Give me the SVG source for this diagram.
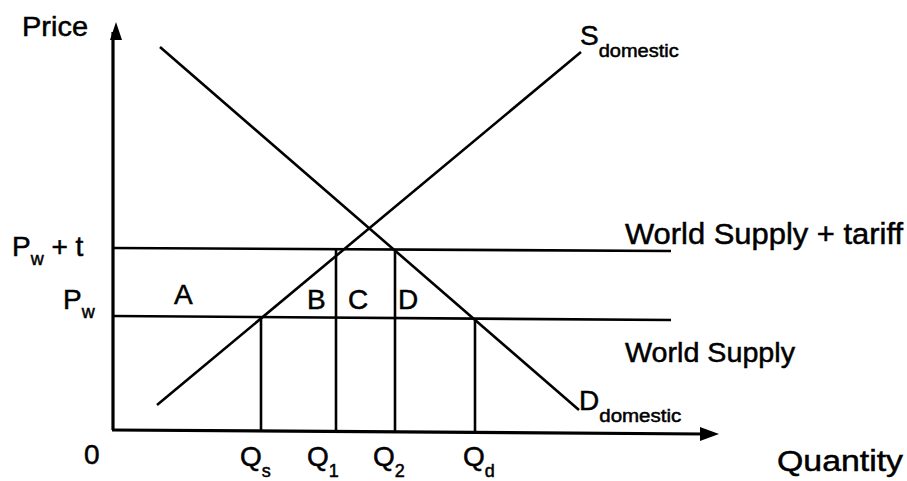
<svg xmlns="http://www.w3.org/2000/svg" width="907" height="481" viewBox="0 0 907 481">
<style>
text{font-family:"Liberation Sans",Arial,sans-serif;fill:#000;stroke:#000;stroke-width:0.5}
.big{font-size:28px}
.lab{font-size:28px}
.sub{font-size:18px}
.ax{stroke:#000;stroke-width:3.2;fill:none}
.ln{stroke:#000;stroke-width:2.6;fill:none}
</style>
<rect width="907" height="481" fill="#fff"/>
<g id="axes">
<line class="ax" x1="113" y1="32" x2="113" y2="430"/>
<polygon points="116,22 110,40 122,40" fill="#000"/>
<line class="ax" x1="112" y1="430" x2="704" y2="434"/>
<polygon points="719,434 700,427 700,441" fill="#000"/>
</g>
<g id="connectors">
<line class="ln" x1="113" y1="248" x2="671" y2="251"/>
<line class="ln" x1="113" y1="316" x2="671" y2="320"/>
<line class="ln" x1="157" y1="405" x2="581" y2="52"/>
<line class="ln" x1="160" y1="47" x2="579" y2="410"/>
<line class="ln" x1="261" y1="318" x2="261" y2="431"/>
<line class="ln" x1="336" y1="250" x2="336" y2="432"/>
<line class="ln" x1="395" y1="251" x2="395" y2="432"/>
<line class="ln" x1="475" y1="319" x2="475" y2="433"/>
</g>
<g id="labels">
<text class="big" x="22" y="36" textLength="66" lengthAdjust="spacingAndGlyphs">Price</text>
<text x="12" y="256"><tspan class="lab">P</tspan><tspan class="sub" dy="9">w</tspan><tspan class="lab" dy="-9"> + t</tspan></text>
<text x="63" y="309"><tspan class="lab">P</tspan><tspan class="sub" dy="9">w</tspan></text>
<text class="lab" x="174" y="304">A</text>
<text class="lab" x="307" y="309">B</text>
<text class="lab" x="348" y="309">C</text>
<text class="lab" x="398" y="309">D</text>
<text x="625" y="244" style="font-size:30px" textLength="278" lengthAdjust="spacingAndGlyphs">World Supply + tariff</text>
<text class="big" x="625" y="362" textLength="170" lengthAdjust="spacingAndGlyphs">World Supply</text>
<text x="580" y="45"><tspan class="big">S</tspan><tspan class="sub" dy="12" textLength="80" lengthAdjust="spacingAndGlyphs">domestic</tspan></text>
<text x="579" y="410"><tspan class="big">D</tspan><tspan class="sub" dy="12" textLength="82" lengthAdjust="spacingAndGlyphs">domestic</tspan></text>
<text class="lab" x="84" y="464">0</text>
<text x="240" y="466"><tspan class="lab">Q</tspan><tspan class="sub" dy="11">s</tspan></text>
<text x="307" y="466"><tspan class="lab">Q</tspan><tspan class="sub" dy="11">1</tspan></text>
<text x="373" y="466"><tspan class="lab">Q</tspan><tspan class="sub" dy="11">2</tspan></text>
<text x="463" y="466"><tspan class="lab">Q</tspan><tspan class="sub" dy="11">d</tspan></text>
<text x="777" y="471" style="font-size:30px" textLength="126" lengthAdjust="spacingAndGlyphs">Quantity</text>
</g>
</svg>
